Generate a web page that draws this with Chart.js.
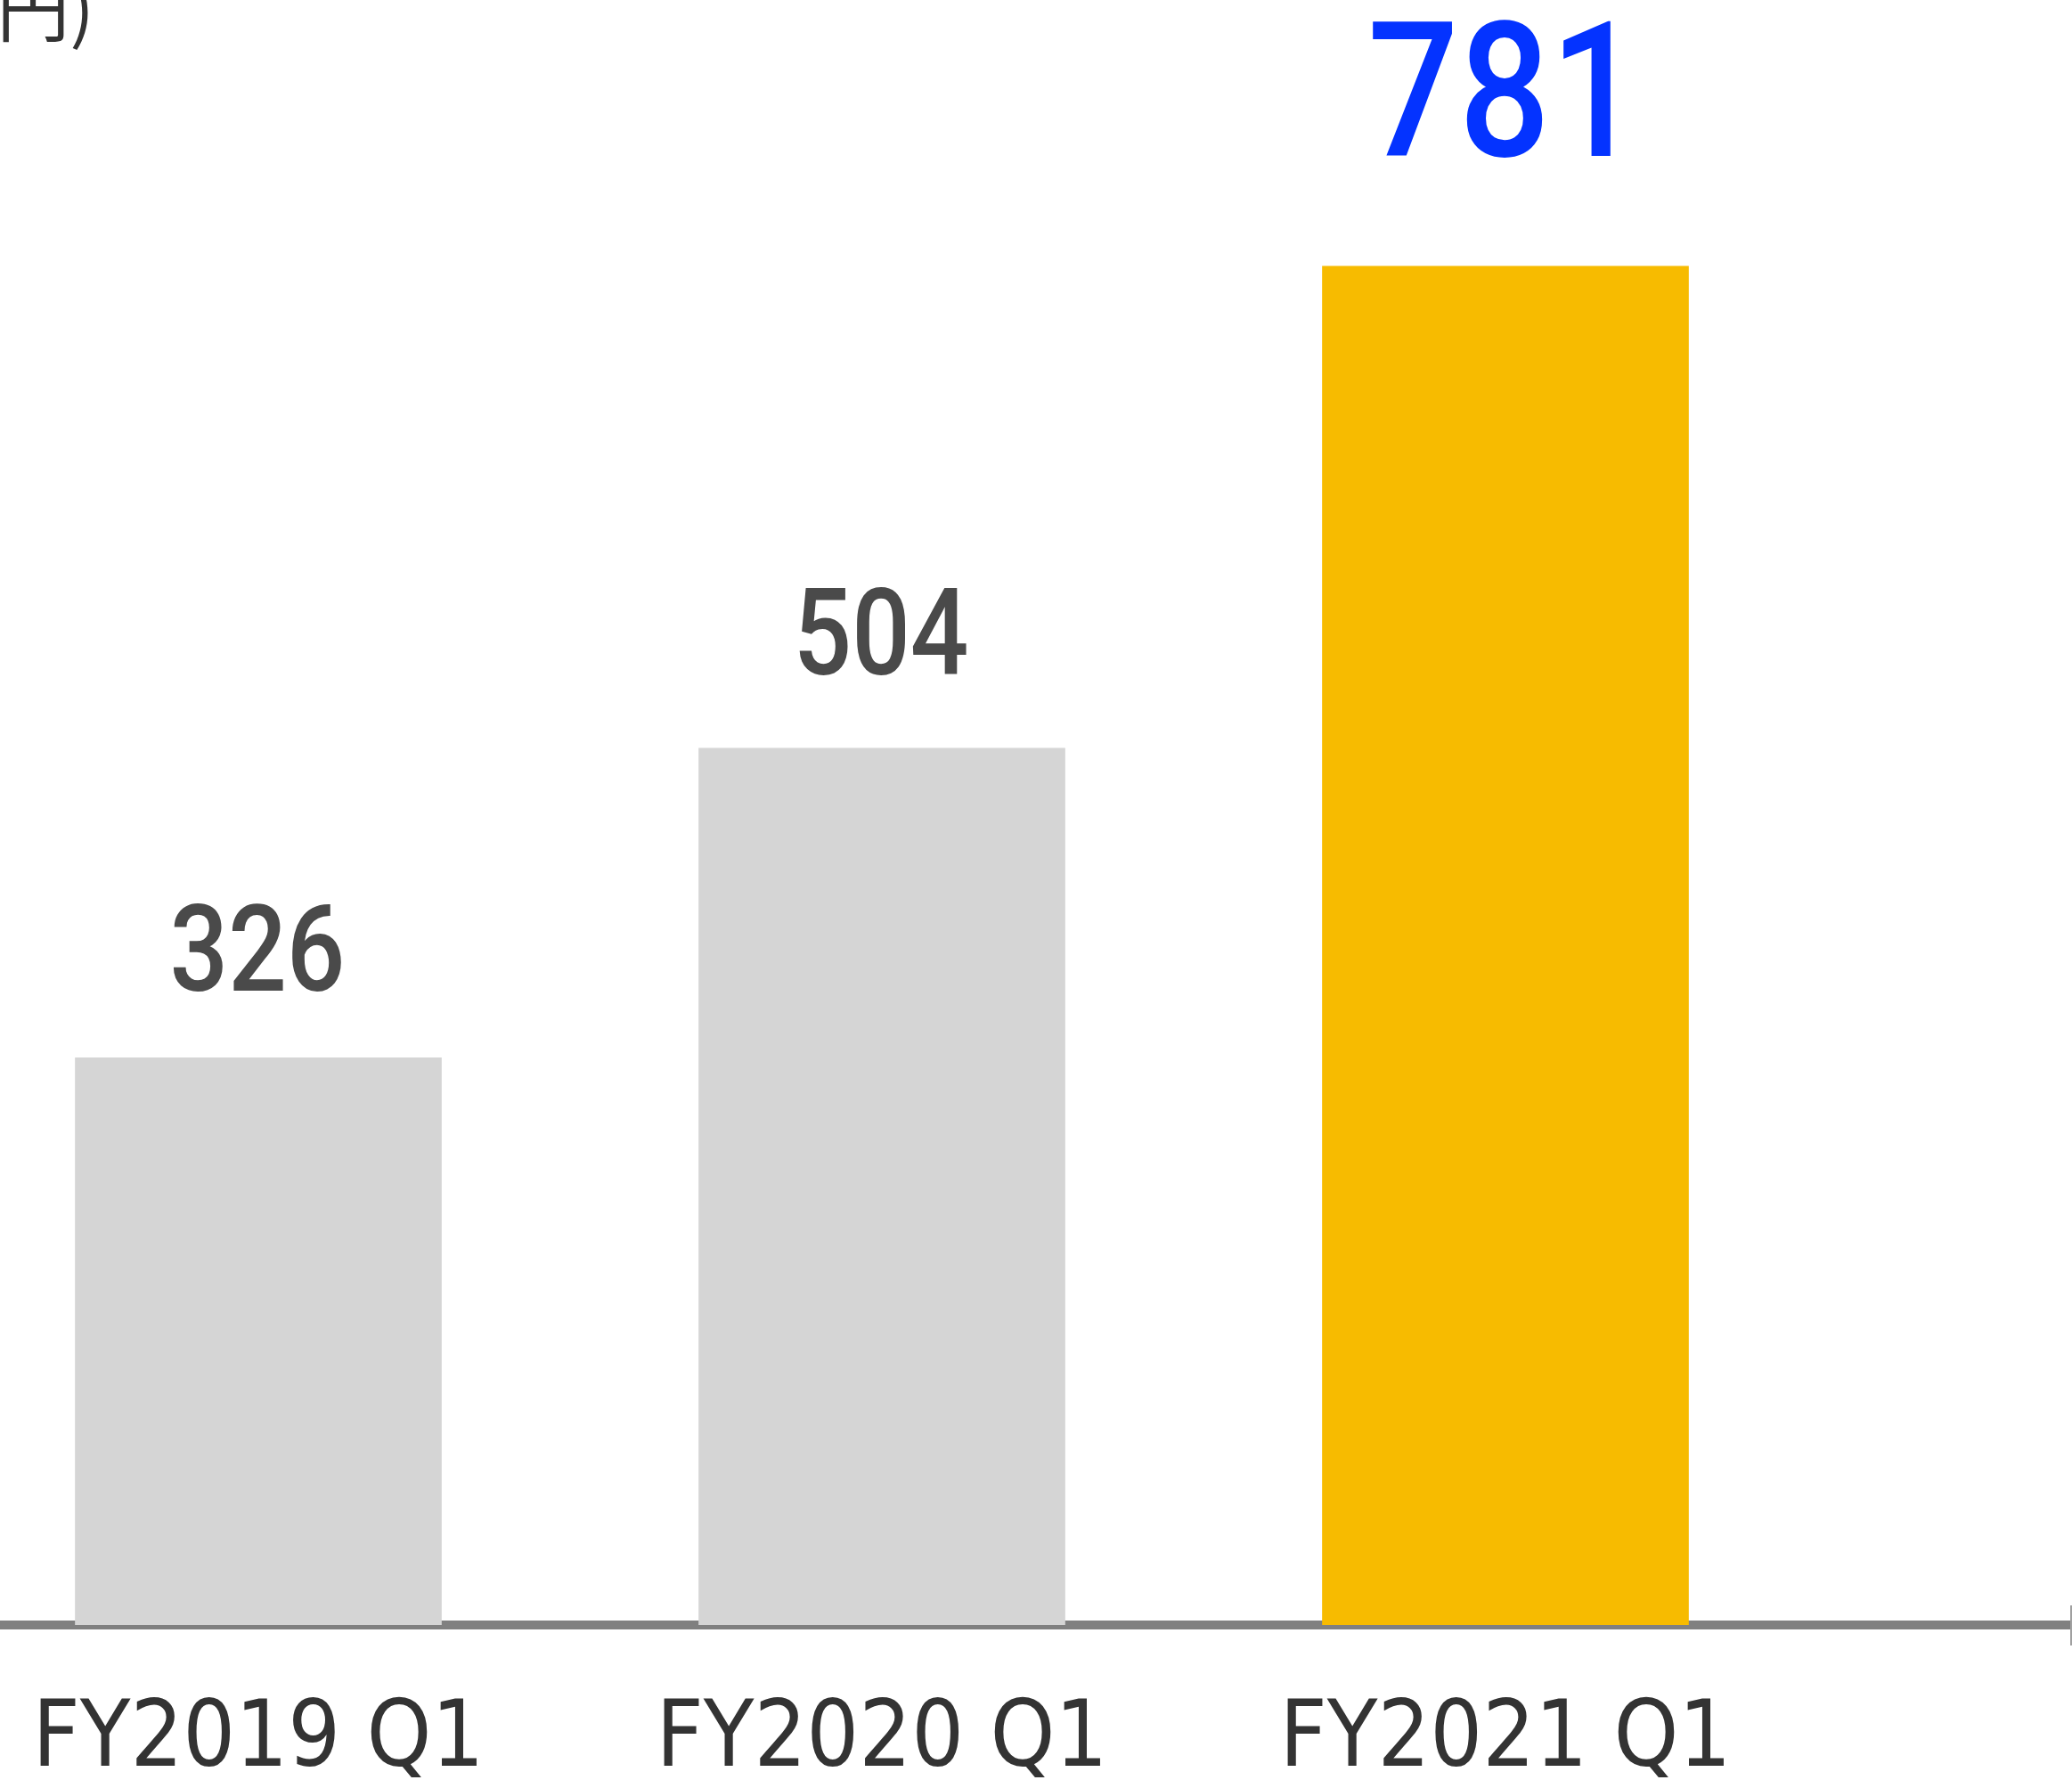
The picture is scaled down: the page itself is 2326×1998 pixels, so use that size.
<!DOCTYPE html>
<html>
<head>
<meta charset="utf-8">
<script src="https://cdn.jsdelivr.net/npm/chart.js@4.4.1/dist/chart.umd.min.js"></script>
<style>
  html, body { margin: 0; padding: 0; background: #fff; overflow: hidden; }
  #wrap { position: relative; width: 2326px; height: 1998px; }
  #unit {
    position: absolute; right: 2220px; top: -36px;
    font-family: 'Noto Sans CJK JP', sans-serif; font-size: 82px; line-height: 1;
    color: #333; white-space: nowrap;
  }
</style>
</head>
<body>
<div id="wrap">
  <canvas id="salesChart" width="2326" height="1998"></canvas>
  <div id="unit">(億円)</div>
</div>
<script>
// values
const categories = ['FY2019 Q1', 'FY2020 Q1', 'FY2021 Q1'];
const values = [326, 504, 781];
const barColors = ['#d5d5d5', '#d5d5d5', '#f7bb00'];
const labelColors = ['#4a4a4a', '#4a4a4a', '#0433ff'];
const labelSizes = [136, 136, 212];
const labelGaps = [75, 83, 124];

// numbers above the bars + the little end tick on the axis
const valueLabels = {
  id: 'valueLabels',
  afterDraw(chart) {
    const { ctx, chartArea } = chart;
    const meta = chart.getDatasetMeta(0);
    meta.data.forEach((bar, i) => {
      ctx.save();
      ctx.font = '500 ' + labelSizes[i] + "px Roboto, 'DejaVu Sans', sans-serif";
      ctx.fillStyle = labelColors[i];
      ctx.textAlign = 'center';
      ctx.textBaseline = 'alphabetic';
      // DIN-like digits are narrower than Roboto, squeeze a bit
      ctx.translate(bar.x - 1, bar.y - labelGaps[i]);
      ctx.scale(0.85, 1);
      ctx.fillText(String(values[i]), 0, 0);
      ctx.restore();
    });
    ctx.save();
    ctx.strokeStyle = '#a0a0a0';
    ctx.lineWidth = 2;
    ctx.beginPath();
    ctx.moveTo(chartArea.right - 1, chartArea.bottom - 22);
    ctx.lineTo(chartArea.right - 1, chartArea.bottom + 23);
    ctx.stroke();
    ctx.restore();
  }
};

const ctx = document.getElementById('salesChart').getContext('2d');
new Chart(ctx, {
  type: 'bar',
  data: {
    datasets: [{
      data: values.map((v, i) => ({ x: i, y: v })),
      backgroundColor: barColors,
      borderWidth: 0,
      barThickness: 411
    }]
  },
  options: {
    responsive: false,
    animation: false,
    devicePixelRatio: 1,
    layout: { padding: 0 },
    plugins: { legend: { display: false }, tooltip: { enabled: false } },
    scales: {
      x: {
        type: 'linear',
        min: -0.4143,
        max: 2.9086,
        offset: false,
        z: 1,
        grid: { display: false, drawTicks: false, offset: false },
        border: { display: true, color: '#808080', width: 10 },
        afterBuildTicks(scale) {
          scale.ticks = categories.map((c, i) => ({ value: i }));
        },
        afterFit(scale) {
          scale.height = 174;
          scale.paddingLeft = 0;
          scale.paddingRight = 0;
        },
        ticks: {
          callback: (v) => categories[v],
          color: '#333',
          padding: 80,
          maxRotation: 0,
          autoSkip: false,
          font: { family: "'DejaVu Sans Condensed', 'DejaVu Sans', sans-serif", size: 103, lineHeight: 1 }
        }
      },
      y: {
        display: false,
        min: 0,
        max: 934
      }
    }
  },
  plugins: [valueLabels]
});
</script>
</body>
</html>
